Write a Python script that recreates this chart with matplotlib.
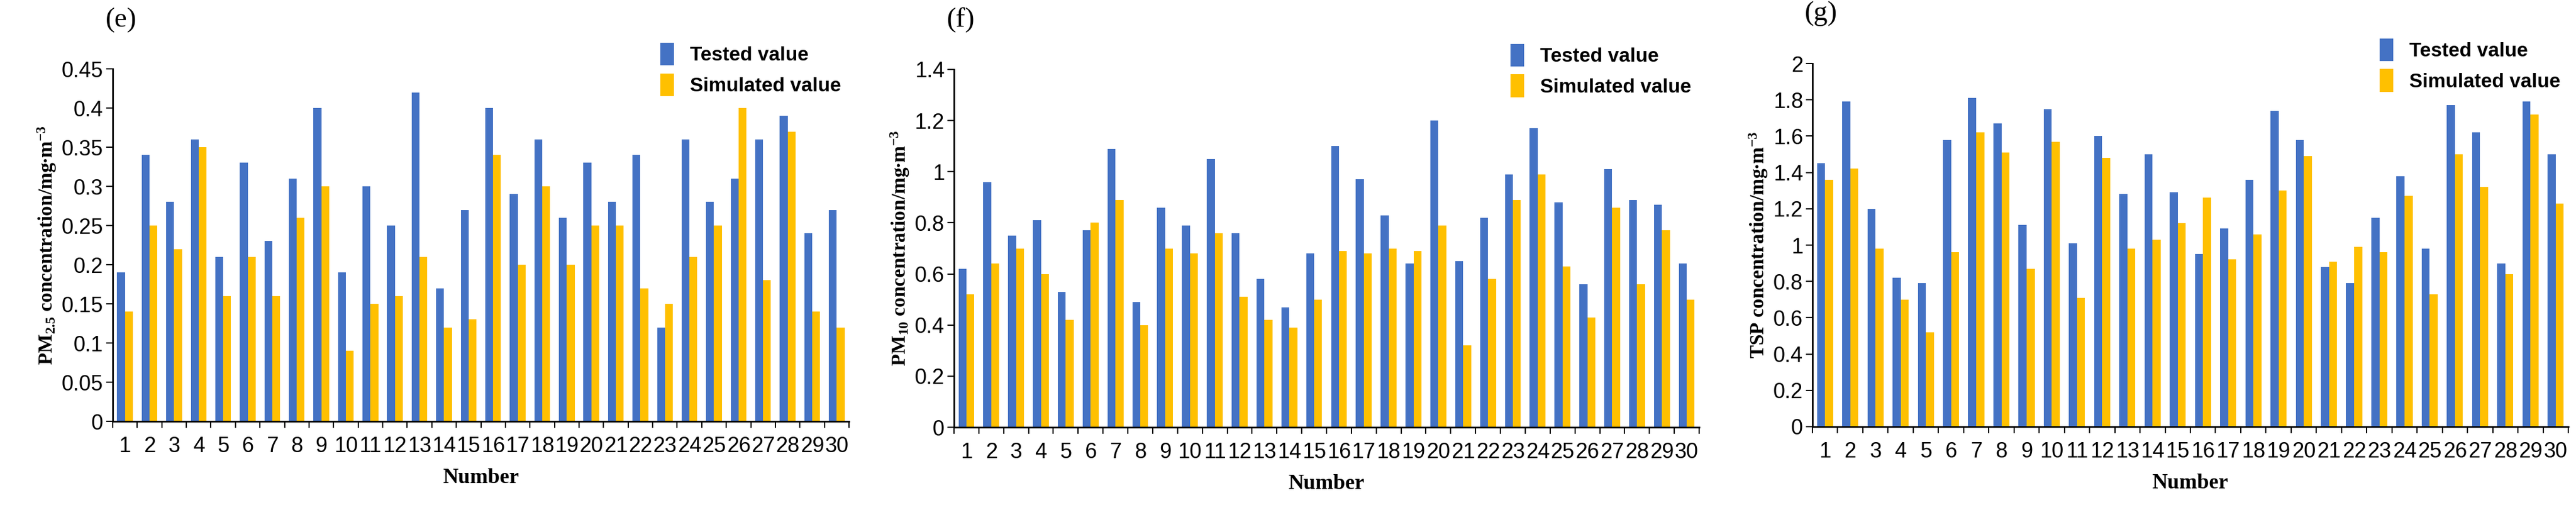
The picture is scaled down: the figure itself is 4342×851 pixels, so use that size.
import matplotlib
matplotlib.use("Agg")
import matplotlib.pyplot as plt
import numpy as np

numbers = list(range(1, 31))
pm25_tested = [0.19,0.34,0.28,0.36,0.21,0.33,0.23,0.31,0.40,0.19,0.30,0.25,0.42,0.17,0.27,0.40,0.29,0.36,0.26,0.33,0.28,0.34,0.12,0.36,0.28,0.31,0.36,0.39,0.24,0.27]
pm25_sim = [0.14,0.25,0.22,0.35,0.16,0.21,0.16,0.26,0.30,0.09,0.15,0.16,0.21,0.12,0.13,0.34,0.20,0.30,0.20,0.25,0.25,0.17,0.15,0.21,0.25,0.40,0.18,0.37,0.14,0.12]
pm10_tested = [0.62,0.96,0.75,0.81,0.53,0.77,1.09,0.49,0.86,0.79,1.05,0.76,0.58,0.47,0.68,1.10,0.97,0.83,0.64,1.20,0.65,0.82,0.99,1.17,0.88,0.56,1.01,0.89,0.87,0.64]
pm10_sim = [0.52,0.64,0.70,0.60,0.42,0.80,0.89,0.40,0.70,0.68,0.76,0.51,0.42,0.39,0.50,0.69,0.68,0.70,0.69,0.79,0.32,0.58,0.89,0.99,0.63,0.43,0.86,0.56,0.77,0.50]
tsp_tested = [1.45,1.79,1.20,0.82,0.79,1.58,1.81,1.67,1.11,1.75,1.01,1.60,1.28,1.50,1.29,0.95,1.09,1.36,1.74,1.58,0.88,0.79,1.15,1.38,0.98,1.77,1.62,0.90,1.79,1.50]
tsp_sim = [1.36,1.42,0.98,0.70,0.52,0.96,1.62,1.51,0.87,1.57,0.71,1.48,0.98,1.03,1.12,1.26,0.92,1.06,1.30,1.49,0.91,0.99,0.96,1.27,0.73,1.50,1.32,0.84,1.72,1.23]

BLUE = "#4472C4"
YEL = "#FFC000"
SANS = "Liberation Sans"
SERIF = "Liberation Serif"

plt.rcParams["mathtext.fontset"] = "custom"
plt.rcParams["mathtext.rm"] = "Liberation Serif:bold"
plt.rcParams["mathtext.bf"] = "Liberation Serif:bold"
plt.rcParams["mathtext.it"] = "Liberation Serif:bold"
plt.rcParams["mathtext.default"] = "rm"

fig = plt.figure(figsize=(43.42, 8.51), dpi=100)
W, H = 4342, 851

panels = [
    (190, 1431, 116, 710, pm25_tested, pm25_sim, 0.45, 0.05, "(e)", r"PM$_{2.5}$ concentration/mg$\bullet$m$^{-3}$"),
    (1608, 2864, 117, 720, pm10_tested, pm10_sim, 1.4, 0.2, "(f)", r"PM$_{10}$ concentration/mg$\bullet$m$^{-3}$"),
    (3055, 4329, 107, 719, tsp_tested, tsp_sim, 2.0, 0.2, "(g)", r"TSP concentration/mg$\bullet$m$^{-3}$"),
]

x = np.arange(len(numbers))
bw = 0.32
for (l, r, t, b, tv, sv, ymax, step, lab, ylab) in panels:
    ax = fig.add_axes([l / W, 1 - b / H, (r - l) / W, (b - t) / H])
    ax.bar(x - bw / 2, tv, bw, color=BLUE, label="Tested value")
    ax.bar(x + bw / 2, sv, bw, color=YEL, label="Simulated value")
    ax.set_xlim(-0.5, len(numbers) - 0.5)
    ax.set_ylim(0, ymax)
    yt = np.round(np.arange(0, ymax + step / 2, step), 2)
    ax.set_yticks(yt)
    ax.set_yticklabels(["%g" % v for v in yt], fontsize=26, family=SANS)
    ax.set_xticks(x)
    ax.set_xticklabels([str(n) for n in numbers], fontsize=26, family=SANS)
    ax.set_xticks(np.arange(-0.5, len(numbers), 1), minor=True)
    ax.tick_params(axis="x", which="major", length=0, pad=18)
    ax.tick_params(axis="x", which="minor", length=8, width=1.5, direction="out")
    ax.tick_params(axis="y", length=8, width=1.5, direction="out")
    for s in ("top", "right"):
        ax.spines[s].set_visible(False)
    for s in ("left", "bottom"):
        ax.spines[s].set_linewidth(2)
    ax.set_xlabel("Number", fontsize=26, fontweight="bold", family=SERIF, labelpad=14)
    ax.set_ylabel(ylab, fontsize=24, fontweight="bold", family=SERIF)
    ax.text(-0.01, 1.12, lab, transform=ax.transAxes, fontsize=34, family=SERIF, ha="left")
    ax.legend(loc="lower right", bbox_to_anchor=(1.0, 0.9), frameon=False,
              prop={"family": SANS, "size": 24, "weight": "bold"}, handlelength=0.7,
              handleheight=1.4, labelspacing=0.4, borderaxespad=0)

fig.savefig("out.png", dpi=100, facecolor="white")
